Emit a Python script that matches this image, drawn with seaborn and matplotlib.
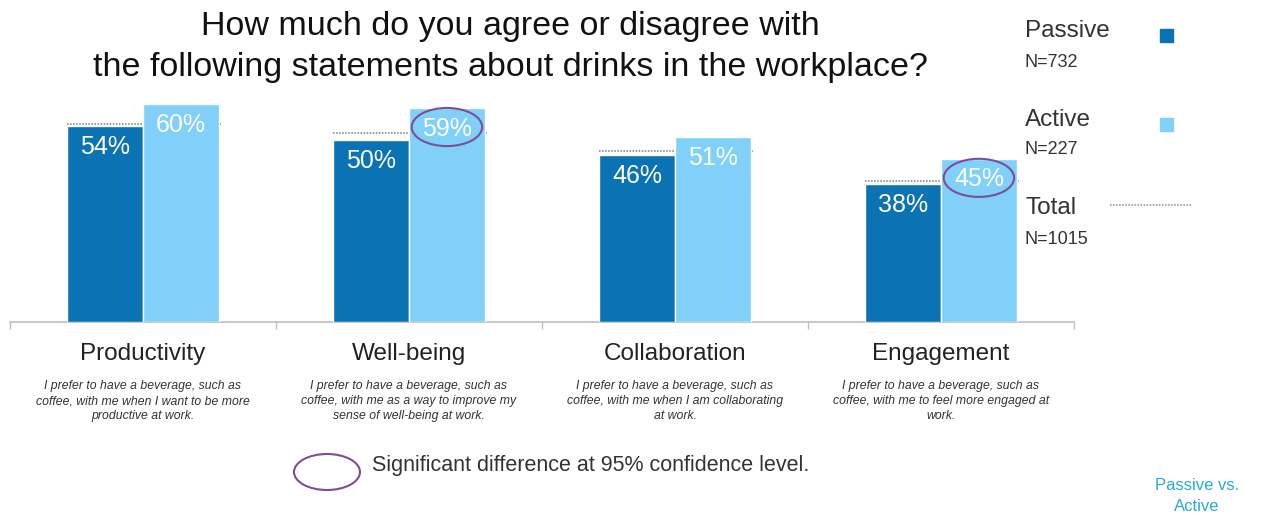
import matplotlib
matplotlib.use("Agg")
import matplotlib.pyplot as plt
import seaborn as sns
import pandas as pd
from matplotlib.patches import Ellipse
from matplotlib.lines import Line2D

sns.set_theme(style="white")
plt.rcParams['font.family'] = ['Liberation Sans', 'DejaVu Sans']

categories = ["Productivity", "Well-being", "Collaboration", "Engagement"]
descriptions = [
    "I prefer to have a beverage, such as\ncoffee, with me when I want to be more\nproductive at work.",
    "I prefer to have a beverage, such as\ncoffee, with me as a way to improve my\nsense of well-being at work.",
    "I prefer to have a beverage, such as\ncoffee, with me when I am collaborating\nat work.",
    "I prefer to have a beverage, such as\ncoffee, with me to feel more engaged at\nwork.",
]
passive = [54, 50, 46, 38]
active = [60, 59, 51, 45]
total = [54.5, 52, 47, 38.8]
significant = [False, True, False, True]
groups = ["Passive", "Active"]
group_n = ["N=732", "N=227"]
total_n = "N=1015"

c_passive = "#0B72B3"
c_active = "#80D0FA"
c_purple = "#7E4E95"

df = pd.DataFrame({
    "category": categories * 2,
    "group": ["Passive"] * 4 + ["Active"] * 4,
    "value": passive + active,
})

fig = plt.figure(figsize=(12.7, 5.17), dpi=100)
W, H = 1270, 517
ax = fig.add_axes([10 / W, 1 - 322 / H, (1074 - 10) / W, (322 - 90) / H])

bw = 0.57
sns.barplot(data=df, x="category", y="value", hue="group", order=categories,
            hue_order=groups, palette=[c_passive, c_active], width=bw,
            gap=0, ax=ax, legend=False, saturation=1, zorder=3)

ax.set_xlim(-0.5, 3.5)
ax.set_ylim(0, 63.9)

# total dotted lines (behind bars)
for i, t in enumerate(total):
    ax.hlines(t, i - bw / 2, i + bw / 2 + 0.01, colors="#7a7a7a",
              linestyles=(0, (1, 1)), linewidth=1.1, zorder=2)

# value labels
for i in range(4):
    for j, vals in enumerate([passive, active]):
        x = i + (j - 0.5) * bw / 2
        ax.annotate(f"{vals[i]}%", (x, vals[i]), xytext=(0, -15),
                    textcoords="offset points", ha="center", va="center",
                    color="white", fontsize=18, zorder=5)
    if significant[i]:
        x = i + bw / 4
        ax.add_patch(Ellipse((x, active[i] - 5.3), 0.265, 10.5, angle=0,
                             fill=False, edgecolor=c_purple, linewidth=1.5,
                             zorder=6))

# axes styling
for s in ["top", "right", "left"]:
    ax.spines[s].set_visible(False)
ax.spines["bottom"].set_color("#c0c0c0")
ax.set_yticks([])
ax.set_ylabel("")
ax.set_xlabel("")
ax.set_xticks(range(4))
ax.set_xticklabels(categories, fontsize=17.5, color="#222222")
ax.tick_params(axis="x", which="major", length=0, pad=15, bottom=False)
ax.set_xticks([-0.5, 0.5, 1.5, 2.5, 3.5], minor=True)
ax.tick_params(axis="x", which="minor", length=5, color="#c0c0c0", width=1,
               bottom=True, direction="out")

for i, d in enumerate(descriptions):
    ax.annotate(d, (i, 0), xycoords=("data", "axes fraction"),
                xytext=(0, -42), textcoords="offset points", ha="center",
                va="top", fontsize=8.8, style="italic", color="#333333",
                linespacing=1.3)

# title
fig.text(510 / W, 1 - 47 / H,
         "How much do you agree or disagree with\nthe following statements about drinks in the workplace?",
         ha="center", va="center", fontsize=24.5, color="#111111", linespacing=1.45)

# legend (manual)
leg = [("Passive", "N=732", 31, 63, c_passive),
       ("Active", "N=227", 120, 150, c_active)]
for name, n, y1, y2, col in leg:
    fig.text(1025 / W, 1 - y1 / H, name, ha="left", va="center", fontsize=17.5, color="#333333")
    fig.text(1025 / W, 1 - y2 / H, n, ha="left", va="center", fontsize=13, color="#333333")
    fig.patches.append(plt.Rectangle((1160 / W, 1 - (y1 + 11) / H), 13 / W, 13 / H,
                                     transform=fig.transFigure, color=col, figure=fig))
fig.text(1025 / W, 1 - 208 / H, "Total", ha="left", va="center", fontsize=17.5, color="#333333")
fig.text(1025 / W, 1 - 239 / H, total_n, ha="left", va="center", fontsize=13, color="#333333")
fig.lines.append(Line2D([1110 / W, 1192 / W], [1 - 205 / H, 1 - 205 / H],
                        transform=fig.transFigure, color="#8a8a8a",
                        linestyle=(0, (1, 1)), linewidth=1.1, figure=fig))

# significance note
fig.patches.append(Ellipse((327 / W, 1 - 472 / H), 66 / W, 36 / H, angle=0,
                           transform=fig.transFigure, fill=False,
                           edgecolor=c_purple, linewidth=1.5, figure=fig))
fig.text(372 / W, 1 - 466 / H, "Significant difference at 95% confidence level.",
         ha="left", va="center", fontsize=15.5, color="#333333")
fig.text(1197 / W, 1 - 496 / H, "Passive vs.\nActive", ha="center", va="center",
         fontsize=12, color="#29A8DF", linespacing=1.55)

fig.savefig("out.png", dpi=100, facecolor="white")
